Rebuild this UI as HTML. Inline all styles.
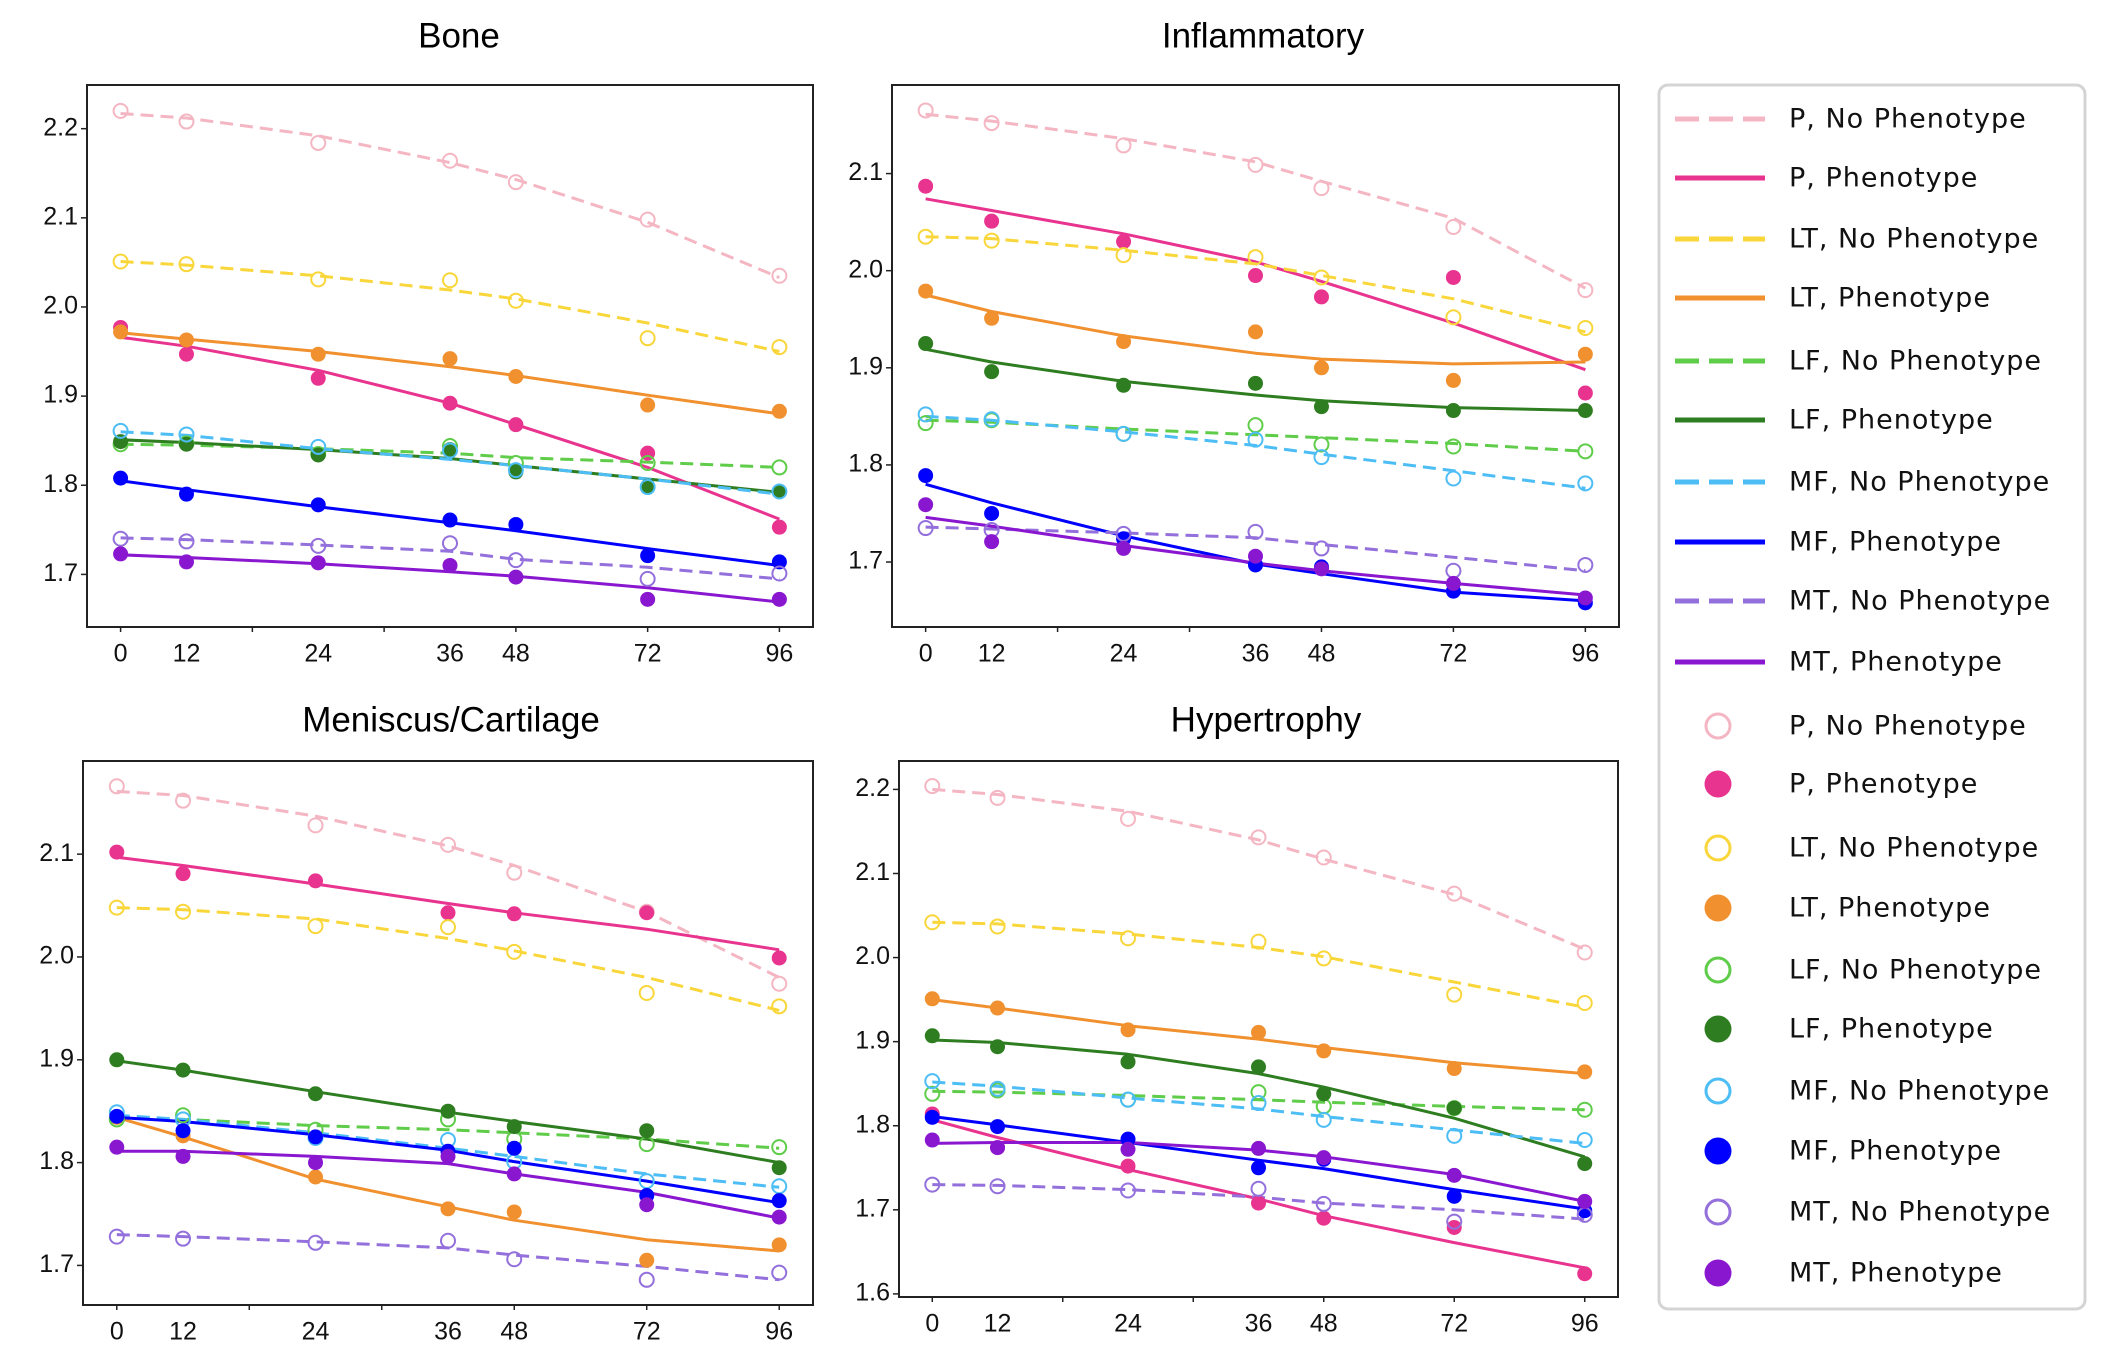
<!DOCTYPE html>
<html><head><meta charset="utf-8"><style>
html,body{margin:0;padding:0;background:#fff;}
svg{display:block;}
</style></head><body>
<svg id="fig" width="2114" height="1366" viewBox="0 0 2114 1366" xmlns="http://www.w3.org/2000/svg"></svg>
<script>
const timeLabels = ["0","12","24","36","48","72","96"];
const timePos = [0,0.5,1.5,2.5,3,4,5];
const seriesNames = ["P, No Phenotype","P, Phenotype","LT, No Phenotype","LT, Phenotype","LF, No Phenotype","LF, Phenotype","MF, No Phenotype","MF, Phenotype","MT, No Phenotype","MT, Phenotype"];
const seriesColors = ["#f4b6c2","#e8338f","#f9d63a","#f0902f","#5fcc4a","#2e7d20","#4dbdf5","#0000ff","#9370db","#8a17d0"];
const seriesDashed = [true,false,true,false,true,false,true,false,true,false];

const boneObs = [
[2.220,2.208,2.184,2.164,2.140,2.098,2.035],
[1.977,1.947,1.920,1.892,1.868,1.836,1.753],
[2.051,2.048,2.031,2.030,2.007,1.965,1.955],
[1.972,1.963,1.947,1.942,1.922,1.890,1.883],
[1.846,1.847,1.835,1.844,1.825,1.825,1.820],
[1.849,1.846,1.834,1.840,1.815,1.799,1.793],
[1.861,1.857,1.843,1.839,1.817,1.798,1.793],
[1.808,1.790,1.778,1.761,1.756,1.721,1.714],
[1.740,1.737,1.732,1.735,1.716,1.695,1.701],
[1.723,1.714,1.713,1.710,1.697,1.672,1.672]];
const boneFit = [
[2.217,2.212,2.192,2.162,2.143,2.095,2.033],
[1.966,1.956,1.929,1.892,1.868,1.820,1.762],
[2.051,2.047,2.035,2.019,2.009,1.982,1.950],
[1.971,1.964,1.950,1.933,1.923,1.901,1.880],
[1.846,1.845,1.841,1.836,1.831,1.826,1.820],
[1.851,1.848,1.840,1.830,1.822,1.807,1.792],
[1.860,1.856,1.841,1.829,1.822,1.807,1.790],
[1.805,1.795,1.776,1.758,1.749,1.729,1.710],
[1.741,1.739,1.733,1.726,1.717,1.708,1.695],
[1.722,1.719,1.712,1.703,1.698,1.685,1.669]];

const inflamObs = [
[2.165,2.152,2.129,2.109,2.085,2.045,1.980],
[2.087,2.051,2.030,1.995,1.973,1.993,1.874],
[2.035,2.031,2.016,2.014,1.993,1.952,1.941],
[1.979,1.951,1.927,1.937,1.900,1.887,1.914],
[1.843,1.846,1.832,1.841,1.821,1.819,1.814],
[1.925,1.896,1.882,1.884,1.860,1.856,1.856],
[1.852,1.847,1.832,1.826,1.808,1.786,1.781],
[1.789,1.750,1.724,1.697,1.695,1.670,1.658],
[1.735,1.733,1.729,1.731,1.714,1.691,1.697],
[1.759,1.721,1.714,1.706,1.693,1.678,1.663]];
const inflamFit = [
[2.161,2.154,2.136,2.112,2.092,2.054,1.982],
[2.074,2.062,2.038,2.009,1.989,1.946,1.898],
[2.035,2.033,2.021,2.007,1.995,1.971,1.937],
[1.975,1.958,1.933,1.915,1.909,1.904,1.906],
[1.846,1.844,1.837,1.831,1.828,1.822,1.814],
[1.919,1.906,1.886,1.872,1.866,1.859,1.856],
[1.850,1.846,1.834,1.820,1.811,1.794,1.776],
[1.780,1.761,1.727,1.698,1.688,1.669,1.660],
[1.736,1.734,1.730,1.725,1.718,1.705,1.691],
[1.746,1.737,1.717,1.699,1.691,1.678,1.666]];

const meniscusObs = [
[2.166,2.152,2.128,2.109,2.082,2.044,1.974],
[2.102,2.081,2.074,2.043,2.042,2.043,1.999],
[2.048,2.044,2.030,2.029,2.005,1.965,1.952],
[1.844,1.826,1.786,1.755,1.752,1.705,1.720],
[1.842,1.846,1.832,1.842,1.823,1.818,1.815],
[1.900,1.890,1.867,1.850,1.835,1.831,1.795],
[1.849,1.842,1.824,1.822,1.801,1.782,1.777],
[1.845,1.831,1.825,1.811,1.814,1.768,1.763],
[1.728,1.726,1.722,1.724,1.706,1.686,1.693],
[1.815,1.806,1.800,1.806,1.789,1.759,1.747]];
const meniscusFit = [
[2.161,2.157,2.137,2.108,2.089,2.044,1.980],
[2.097,2.089,2.071,2.052,2.043,2.027,2.007],
[2.048,2.046,2.037,2.018,2.006,1.980,1.948],
[1.844,1.825,1.784,1.757,1.744,1.725,1.714],
[1.844,1.842,1.836,1.832,1.829,1.823,1.814],
[1.899,1.890,1.869,1.849,1.840,1.823,1.800],
[1.846,1.842,1.829,1.814,1.806,1.789,1.776],
[1.844,1.840,1.827,1.812,1.801,1.782,1.761],
[1.730,1.728,1.723,1.717,1.710,1.699,1.686],
[1.811,1.811,1.806,1.799,1.789,1.771,1.746]];

const hyperObs = [
[2.204,2.190,2.165,2.143,2.119,2.076,2.006],
[1.814,1.774,1.752,1.708,1.690,1.679,1.624],
[2.042,2.037,2.023,2.019,1.999,1.956,1.946],
[1.951,1.940,1.914,1.911,1.889,1.868,1.864],
[1.838,1.842,1.831,1.840,1.823,1.821,1.819],
[1.907,1.894,1.876,1.870,1.838,1.821,1.755],
[1.853,1.844,1.831,1.827,1.807,1.788,1.783],
[1.810,1.799,1.784,1.750,1.760,1.716,1.699],
[1.730,1.728,1.723,1.725,1.707,1.686,1.694],
[1.783,1.774,1.772,1.773,1.762,1.741,1.710]];
const hyperFit = [
[2.200,2.194,2.174,2.140,2.117,2.075,2.010],
[1.807,1.786,1.748,1.713,1.693,1.661,1.631],
[2.042,2.040,2.028,2.012,2.001,1.971,1.941],
[1.950,1.940,1.919,1.903,1.893,1.875,1.862],
[1.841,1.840,1.836,1.831,1.828,1.823,1.819],
[1.902,1.899,1.885,1.862,1.846,1.809,1.763],
[1.852,1.847,1.833,1.820,1.811,1.795,1.779],
[1.811,1.801,1.780,1.759,1.749,1.724,1.701],
[1.730,1.729,1.724,1.715,1.708,1.700,1.689],
[1.779,1.780,1.780,1.771,1.763,1.742,1.710]];

const boneTicks = [1.7,1.8,1.9,2.0,2.1,2.2];
const inflamTicks = [1.7,1.8,1.9,2.0,2.1];
const meniscusTicks = [1.7,1.8,1.9,2.0,2.1];
const hyperTicks = [1.6,1.7,1.8,1.9,2.0,2.1,2.2];

const NS = "http://www.w3.org/2000/svg";
const svg = document.getElementById("fig");
function mk(tag, attrs, parent){
  const e = document.createElementNS(NS, tag);
  for (const k in attrs) e.setAttribute(k, attrs[k]);
  (parent||svg).appendChild(e);
  return e;
}

const panels = [
 {key:"bone", title:"Bone", L:87, R:813, T:85, B:627, ymin:1.641, ymax:2.249, ticks:boneTicks, obs:boneObs, fit:boneFit, tx:459, ty:38},
 {key:"inflammatory", title:"Inflammatory", L:892, R:1619, T:85, B:627, ymin:1.6331, ymax:2.1912, ticks:inflamTicks, obs:inflamObs, fit:inflamFit, tx:1263, ty:38},
 {key:"meniscus", title:"Meniscus/Cartilage", L:83, R:813, T:761, B:1305, ymin:1.6615, ymax:2.1906, ticks:meniscusTicks, obs:meniscusObs, fit:meniscusFit, tx:451, ty:722},
 {key:"hypertrophy", title:"Hypertrophy", L:899, R:1618, T:761, B:1297, ymin:1.5963, ymax:2.2338, ticks:hyperTicks, obs:hyperObs, fit:hyperFit, tx:1266, ty:722}
];
const XMIN = -0.255, XMAX = 5.255;

panels.forEach(p => {
  const g = mk("g", {});
  
  
  const xs = u => p.L + (u - XMIN) / (XMAX - XMIN) * (p.R - p.L);
  const ys = v => p.B - (v - p.ymin) / (p.ymax - p.ymin) * (p.B - p.T);

  const title = mk("text", {x:p.tx, y:p.ty, "text-anchor":"middle", "dominant-baseline":"middle", "font-family":"Liberation Sans, sans-serif", "font-size":"35"}, g);
  title.textContent = p.title;
  
  

  p.ticks.forEach(t => {
    const y = ys(t);
    mk("line", {x1:p.L-6, x2:p.L, y1:y, y2:y, stroke:"#222", "stroke-width":1.5}, g);
    const lb = mk("text", {x:p.L-9, y:y, "text-anchor":"end", "dominant-baseline":"middle", "font-family":"Liberation Sans, sans-serif", "font-size":"25", fill:"#111"}, g);
    lb.textContent = t.toFixed(1);
    
    
  });
  for (let u = 0; u <= 5; u++) {
    mk("line", {x1:xs(u), x2:xs(u), y1:p.B, y2:p.B+5, stroke:"#222", "stroke-width":1.5}, g);
  }
  timeLabels.forEach((lab, i) => {
    const t = mk("text", {x:xs(timePos[i]), y:p.B+28, "text-anchor":"middle", "dominant-baseline":"middle", "font-family":"Liberation Sans, sans-serif", "font-size":"25", fill:"#111"}, g);
    t.textContent = lab;
    
    
  });

  p.fit.forEach((vals, si) => {
    const pts = vals.map((v, i) => xs(timePos[i]).toFixed(1) + "," + ys(v).toFixed(1)).join(" ");
    const ln = mk("polyline", {points:pts, fill:"none", stroke:seriesColors[si], "stroke-width":3, "stroke-linejoin":"round"}, g);
    if (seriesDashed[si]) ln.setAttribute("stroke-dasharray", "13 7");
    
    
  });
  p.obs.forEach((vals, si) => {
    vals.forEach((v, i) => {
      const open = seriesDashed[si];
      const c = mk("circle", {cx:xs(timePos[i]), cy:ys(v), r: open ? 7 : 7.5, fill: open ? "none" : seriesColors[si], stroke: seriesColors[si], "stroke-width": open ? 2 : 0}, g);
      
      
    });
  });

  const frame = mk("rect", {x:p.L, y:p.T, width:p.R-p.L, height:p.B-p.T, fill:"none", stroke:"#222", "stroke-width":2}, g);
  
  
});

const lg = mk("g", {});


const lbox = mk("rect", {x:1659, y:85, width:426, height:1224, rx:9, fill:"#fff", stroke:"#d4d4d4", "stroke-width":3}, lg);


const rowYs = [119,178,239,298,361,420,482,542,601,662,726,784,848,908,970,1029,1091,1151,1212,1273];
for (let r = 0; r < 20; r++) {
  const si = r % 10;
  const y = rowYs[r];
  const entry = mk("g", {}, lg);
  
  
  if (r < 10) {
    const l = mk("line", {x1:1675, x2:1765, y1:y, y2:y, stroke:seriesColors[si], "stroke-width":5}, entry);
    if (seriesDashed[si]) l.setAttribute("stroke-dasharray", "24 10");
  } else {
    const open = seriesDashed[si];
    mk("circle", {cx:1718, cy:y, r: open ? 12 : 13.5, fill: open ? "none" : seriesColors[si], stroke: seriesColors[si], "stroke-width": open ? 3 : 0}, entry);
  }
  const t = mk("text", {x:1789, y:y+1, "dominant-baseline":"middle", "font-family":"DejaVu Sans, sans-serif", "font-size":"27", "letter-spacing":"1", fill:"#111"}, entry);
  t.textContent = seriesNames[si];
}
</script>
</body></html>
